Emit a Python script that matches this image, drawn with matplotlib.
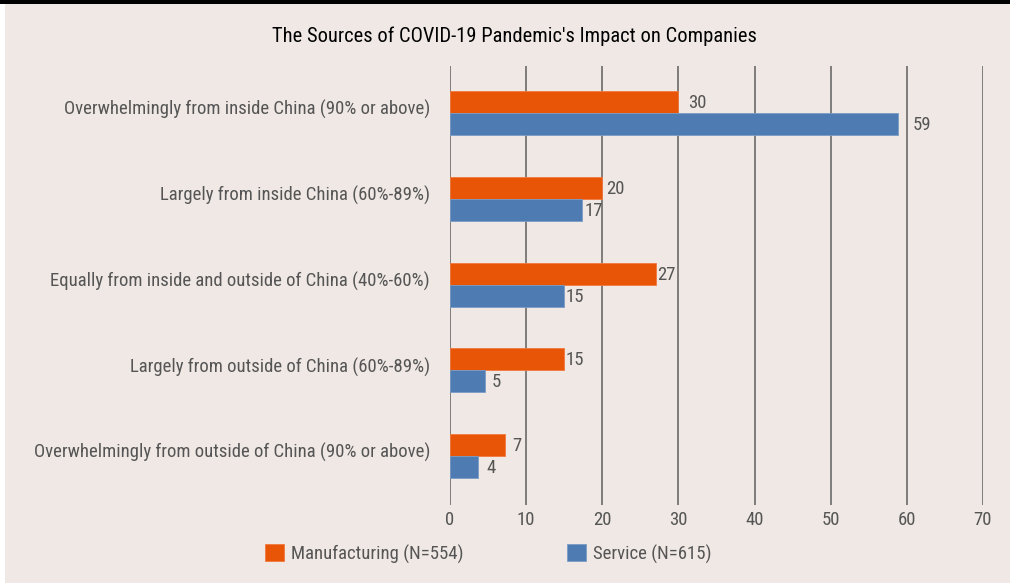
import matplotlib
matplotlib.use("Agg")
import matplotlib.pyplot as plt
from matplotlib import font_manager
from matplotlib.patches import Rectangle
from matplotlib.transforms import ScaledTranslation
import numpy as np

# ---------------- data ----------------
categories = [
    "Overwhelmingly from inside China (90% or above)",
    "Largely from inside China (60%-89%)",
    "Equally from inside and outside of China (40%-60%)",
    "Largely from outside of China (60%-89%)",
    "Overwhelmingly from outside of China (90% or above)",
]
manufacturing = [30.0, 19.9, 27.0, 15.0, 7.2]
service = [58.8, 17.3, 15.0, 4.6, 3.7]
manufacturing_labels = ["30", "20", "27", "15", "7"]
service_labels = ["59", "17", "15", "5", "4"]
series_names = ["Manufacturing (N=554)", "Service (N=615)"]
x_ticks = [0, 10, 20, 30, 40, 50, 60, 70]
title = "The Sources of COVID-19 Pandemic's Impact on Companies"

# label offsets (pixels) to the right of bar ends, as placed in the original
manu_pad_px = [10, 5, 2, 1, 7]
serv_pad_px = [15, 3, 1, 7, 8]

# ---------------- font choice ----------------
fl = font_manager.fontManager.ttflist
names = {f.name for f in fl}

SCALE = 1.0
if "Roboto Condensed" in names:
    FONT = "Roboto Condensed"
elif "Liberation Sans Narrow" in names:
    FONT = "Liberation Sans Narrow"
else:
    FONT, SCALE = "Liberation Sans", 0.85
plt.rcParams["font.family"] = [FONT, "DejaVu Sans"]

FS_CAT = 13.5 * SCALE
FS_TICK = 13.5 * SCALE
FS_VAL = 13.5 * SCALE
FS_TITLE = 14.8 * SCALE
FS_LEG = 13.5 * SCALE

BG = "#EFE8E5"
ORANGE = "#E85506"
BLUE = "#4E7BB1"
TXT = "#555555"
GRID = "#6A6A6A"

W, H = 1010, 583
fig = plt.figure(figsize=(W / 100, H / 100), dpi=100, facecolor=BG)

# white strip at the left and black band at the top
fig.add_artist(Rectangle((0, 0), 5 / W, 1, transform=fig.transFigure,
                         facecolor="white", edgecolor="none", zorder=0))
fig.add_artist(Rectangle((0, 1 - 4 / H), 1, 4 / H, transform=fig.transFigure,
                         facecolor="black", edgecolor="none", zorder=0))

ax_left, ax_right = 450, 983
ax_top, ax_bottom = 66, 505
ax = fig.add_axes([ax_left / W, 1 - ax_bottom / H,
                   (ax_right - ax_left) / W, (ax_bottom - ax_top) / H])
ax.set_facecolor("none")

y = np.arange(len(categories))
bh = 0.256
b1 = ax.barh(y - bh / 2, manufacturing, height=bh, color=ORANGE,
             edgecolor="#F07A3E", linewidth=0.6, zorder=3, label=series_names[0])
b2 = ax.barh(y + bh / 2, service, height=bh, color=BLUE,
             edgecolor="#7A9CC6", linewidth=0.6, zorder=3, label=series_names[1])

ax.set_xlim(0, 70)
ax.set_ylim(len(categories) - 1 + 0.57, -0.55)
ax.set_xticks(x_ticks)
ax.set_xticklabels([str(t) for t in x_ticks])
ax.set_yticks(y)
ax.set_yticklabels(categories)
ax.grid(axis="x", color=GRID, linewidth=1.2, zorder=1)
ax.grid(axis="y", visible=False)
for s in ax.spines.values():
    s.set_visible(False)
ax.tick_params(axis="y", length=0, pad=14.4, labelsize=FS_CAT, labelcolor=TXT)
ax.tick_params(axis="x", length=0, pad=4, labelsize=FS_TICK, labelcolor=TXT)

# category labels sit slightly above the centre of each bar pair
lift = ScaledTranslation(0, 5.5 / 100, fig.dpi_scale_trans)
for lab in ax.get_yticklabels():
    lab.set_transform(lab.get_transform() + lift)

for bars, labels, pads in ((b1, manufacturing_labels, manu_pad_px),
                           (b2, service_labels, serv_pad_px)):
    for rect, lab, p in zip(bars, labels, pads):
        tr = ax.transData + ScaledTranslation(p / 100, -1 / 100, fig.dpi_scale_trans)
        ax.text(rect.get_width(), rect.get_y() + rect.get_height() / 2, lab,
                transform=tr, ha="left", va="center", fontsize=FS_VAL,
                color=TXT, zorder=4)

fig.text(514.5 / W, 1 - 36 / H, title, ha="center", va="center",
         fontsize=FS_TITLE, color="black")

# legend (one entry per legend box, side by side)
hs = 19 / (FS_LEG * 100 / 72)
for handle, name, xpx in ((b1, series_names[0], 265), (b2, series_names[1], 567)):
    fig.legend(handles=[handle], labels=[name], loc="center left",
               bbox_to_anchor=(xpx / W, 1 - 554 / H), frameon=False,
               fontsize=FS_LEG, labelcolor=TXT, handlelength=hs, handleheight=hs,
               handletextpad=0.38, borderpad=0, borderaxespad=0)

fig.savefig("out.png", dpi=100, facecolor=BG)
